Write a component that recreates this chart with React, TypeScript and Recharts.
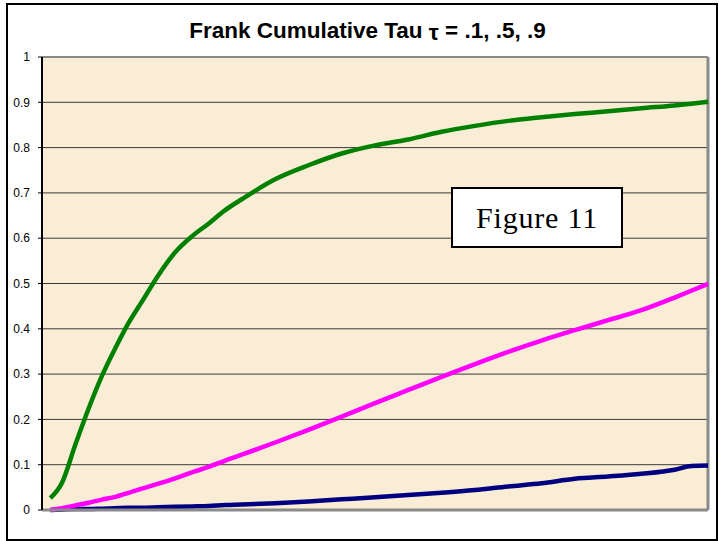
import React from "react";
import {
  LineChart,
  Line,
  XAxis,
  YAxis,
  CartesianGrid,
  ReferenceLine,
} from "recharts";

// x positions along the (unlabelled) horizontal axis, as a fraction of the axis
const xValues = [
  0.0125, 0.03, 0.05, 0.07, 0.09, 0.11, 0.13, 0.15, 0.175, 0.2, 0.225, 0.25,
  0.275, 0.3, 0.35, 0.4, 0.45, 0.5, 0.55, 0.6, 0.65, 0.7, 0.75, 0.8, 0.85, 0.9,
  0.95, 0.975, 1.0,
];

// tau = .9 (green)
const tau09 = [
  0.026, 0.06, 0.144, 0.224, 0.296, 0.357, 0.413, 0.46, 0.519, 0.569, 0.604,
  0.632, 0.662, 0.686, 0.73, 0.761, 0.787, 0.805, 0.818, 0.835, 0.848, 0.859,
  0.867, 0.874, 0.88, 0.887, 0.893, 0.897, 0.901,
];

// tau = .5 (magenta)
const tau05 = [
  0.0, 0.004, 0.01, 0.016, 0.023, 0.029, 0.038, 0.047, 0.058, 0.07, 0.083,
  0.095, 0.109, 0.122, 0.149, 0.177, 0.206, 0.236, 0.265, 0.294, 0.322, 0.349,
  0.374, 0.397, 0.419, 0.441, 0.469, 0.484, 0.499,
];

// tau = .1 (navy)
const tau01 = [
  0.0, 0.001, 0.002, 0.002, 0.003, 0.004, 0.005, 0.005, 0.006, 0.007, 0.008,
  0.009, 0.011, 0.012, 0.015, 0.019, 0.0235, 0.028, 0.033, 0.038, 0.044, 0.052,
  0.059, 0.069, 0.074, 0.08, 0.089, 0.097, 0.098,
];

const yTicks = [0, 0.1, 0.2, 0.3, 0.4, 0.5, 0.6, 0.7, 0.8, 0.9, 1];

const titleText = "Frank Cumulative Tau ";
const titleTau = "τ";
const titleRest = " = .1, .5, .9";
const figureLabel = "Figure 11";

const data = xValues.map((x, i) => ({
  x,
  t09: tau09[i],
  t05: tau05[i],
  t01: tau01[i],
}));

const fmt = (v: number) => (v === 0 ? "0" : v === 1 ? "1" : String(v));

export default function App() {
  return (
    <div
      style={{
        position: "absolute",
        left: 0,
        top: 0,
        width: 719,
        height: 541,
        background: "#ffffff",
        overflow: "hidden",
      }}
    >
      <div
        style={{
          position: "absolute",
          left: 6,
          top: 3,
          width: 712,
          height: 538,
          border: "2px solid #000",
          boxSizing: "border-box",
        }}
      />
      <div
        style={{
          position: "absolute",
          left: 0,
          top: 18,
          width: 735,
          lineHeight: "25px",
          textAlign: "center",
          fontFamily: "Arial, 'Liberation Sans', sans-serif",
          fontWeight: "bold",
          fontSize: 22.5,
          color: "#000",
          whiteSpace: "pre",
        }}
      >
        {titleText}
        <span style={{ position: "relative", top: 2 }}>{titleTau}</span>
        {titleRest}
      </div>
      <div style={{ position: "absolute", left: 0, top: 0 }}>
        <LineChart
          width={719}
          height={541}
          data={data}
          margin={{ top: 57, right: 11, bottom: 30, left: 0 }}
        >
          <CartesianGrid
            vertical={false}
            horizontal={true}
            stroke="#3a3a3a"
            strokeWidth={1}
            fill="#FAEDD5"
            fillOpacity={1}
          />
          <XAxis
            dataKey="x"
            type="number"
            domain={[0, 1]}
            tick={false}
            tickLine={false}
            height={1}
            axisLine={{ stroke: "#8a8a8a", strokeWidth: 3 }}
          />
          <YAxis
            type="number"
            domain={[0, 1]}
            ticks={yTicks}
            interval={0}
            width={42}
            tickSize={4}
            tickMargin={8}
            tickFormatter={fmt}
            axisLine={{ stroke: "#000", strokeWidth: 2 }}
            tickLine={{ stroke: "#000" }}
            tick={{
              fill: "#000",
              fontSize: 12,
              fontFamily: "Arial, 'Liberation Sans', sans-serif",
            }}
          />
          <ReferenceLine y={1} stroke="#8a8a8a" strokeWidth={2} />
          <ReferenceLine x={1} stroke="#8a8a8a" strokeWidth={3} />
          <Line
            type="monotone"
            dataKey="t01"
            stroke="#000080"
            strokeWidth={4.5}
            dot={false}
            isAnimationActive={false}
          />
          <Line
            type="monotone"
            dataKey="t05"
            stroke="#FF00FF"
            strokeWidth={4.5}
            dot={false}
            isAnimationActive={false}
          />
          <Line
            type="monotone"
            dataKey="t09"
            stroke="#008000"
            strokeWidth={4.5}
            dot={false}
            isAnimationActive={false}
          />
        </LineChart>
      </div>
      <div
        style={{
          position: "absolute",
          left: 451,
          top: 187,
          width: 172,
          height: 61,
          background: "#fff",
          border: "2px solid #000",
          boxSizing: "border-box",
          display: "flex",
          alignItems: "center",
          justifyContent: "center",
          fontFamily: "'Palatino Linotype', 'Book Antiqua', 'Liberation Serif', 'DejaVu Serif', serif",
          fontSize: 30,
          letterSpacing: 0.8,
          color: "#000",
        }}
      >
        {figureLabel}
      </div>
    </div>
  );
}
